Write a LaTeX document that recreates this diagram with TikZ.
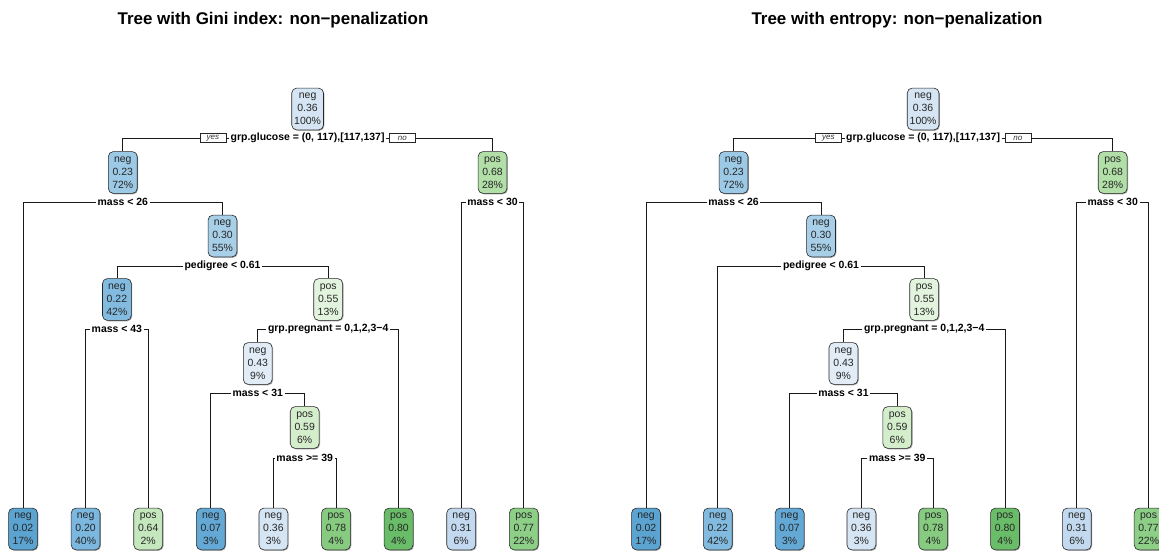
\documentclass[tikz,border=0pt]{standalone}
\usepackage{fontspec}
\setmainfont{Liberation Sans}
\usetikzlibrary{positioning,shadows}

% node fill colours, blue for "neg", green for "pos", darker for purer nodes
\definecolor{b002}{HTML}{5BA3D1}
\definecolor{b007}{HTML}{64A9D5}
\definecolor{b020}{HTML}{7BB7DE}
\definecolor{b022}{HTML}{82BBDF}
\definecolor{b023}{HTML}{9CC9E5}
\definecolor{b030}{HTML}{A8CFE8}
\definecolor{b031}{HTML}{C3D9EF}
\definecolor{b036}{HTML}{D5E5F3}
\definecolor{b043}{HTML}{E1ECF7}
\definecolor{g055}{HTML}{E3F4DE}
\definecolor{g059}{HTML}{D4EECC}
\definecolor{g064}{HTML}{C5E7BD}
\definecolor{g068}{HTML}{B2DEA8}
\definecolor{g077}{HTML}{8DCF87}
\definecolor{g078}{HTML}{86CB80}
\definecolor{g080}{HTML}{6ABD68}

\tikzset{
  tbox/.style={draw=black!85, line width=0.6pt, rounded corners=5pt, align=center,
    font=\fontsize{10.5}{13}\selectfont, text=black!85,
    minimum width=29pt, minimum height=42pt, inner sep=2.5pt,
    drop shadow={shadow xshift=0.9pt, shadow yshift=-0.9pt, fill=black!35, opacity=1}},
  splitlbl/.style={fill=white, font=\fontsize{10.5}{12}\selectfont\bfseries,
    inner xsep=1.5pt, inner ysep=0.5pt},
  yn/.style={draw=black!85, line width=0.5pt, fill=white,
    font=\fontsize{8}{9}\selectfont\itshape, text=black!80,
    minimum width=26pt, minimum height=9.5pt, inner sep=0.5pt},
  edge/.style={draw=black!90, line width=0.7pt},
  ttl/.style={font=\fontsize{17}{19}\selectfont\bfseries, anchor=base}
}

% a split label joined to its two children
\newcommand\splitedges[3]{%
  \draw[edge] (#1.west) -| (#2.north);
  \draw[edge] (#1.east) -| (#3.north);}

\begin{document}
\begin{tikzpicture}[x=1bp,y=-1bp]
\useasboundingbox[fill=white] (0,0) rectangle (1159,551);

% ---------------- Gini tree ----------------
\node[ttl] (tA) at (273,25) {Tree with Gini index: non−penalization};

\node[tbox, fill=b036] (A0) at (307.6,109) {neg\\0.36\\100\%};
\node[tbox, fill=b023] (A1) at (122.8,172.5) {neg\\0.23\\72\%};
\node[tbox, fill=g068] (A2) at (492.5,172.5) {pos\\0.68\\28\%};
\node[tbox, fill=b030] (A3) at (222.5,236) {neg\\0.30\\55\%};
\node[tbox, fill=b022] (A4) at (116.9,299.5) {neg\\0.22\\42\%};
\node[tbox, fill=g055] (A5) at (328.2,299.5) {pos\\0.55\\13\%};
\node[tbox, fill=b043] (A6) at (257.75,363.5) {neg\\0.43\\9\%};
\node[tbox, fill=g059] (A7) at (304.7,427.5) {pos\\0.59\\6\%};

\node[tbox, fill=b002] (A8)  at (23,529)    {neg\\0.02\\17\%};
\node[tbox, fill=b020] (A9)  at (85.6,529)  {neg\\0.20\\40\%};
\node[tbox, fill=g064] (A10) at (148.2,529) {pos\\0.64\\2\%};
\node[tbox, fill=b007] (A11) at (210.8,529) {neg\\0.07\\3\%};
\node[tbox, fill=b036] (A12) at (273.4,529) {neg\\0.36\\3\%};
\node[tbox, fill=g078] (A13) at (336,529)   {pos\\0.78\\4\%};
\node[tbox, fill=g080] (A14) at (398.6,529) {pos\\0.80\\4\%};
\node[tbox, fill=b031] (A15) at (461.2,529) {neg\\0.31\\6\%};
\node[tbox, fill=g077] (A16) at (523.8,529) {pos\\0.77\\22\%};

\node[splitlbl] (sA0) at (307.6,138) {grp.glucose = (0, 117),[117,137]};
\node[yn, left=3pt of sA0]  (yA) {yes};
\node[yn, right=3pt of sA0] (nA) {no};
\draw[edge] (sA0.west) -- (yA.east);
\draw[edge] (yA.west) -| (A1.north);
\draw[edge] (sA0.east) -- (nA.west);
\draw[edge] (nA.east) -| (A2.north);

\node[splitlbl] (sA1) at (122.8,202) {mass < 26};
\node[splitlbl] (sA2) at (492.5,202) {mass < 30};
\node[splitlbl] (sA3) at (222.5,266) {pedigree < 0.61};
\node[splitlbl] (sA4) at (116.9,329) {mass < 43};
\node[splitlbl] (sA5) at (328.2,329) {grp.pregnant = 0,1,2,3−4};
\node[splitlbl] (sA6) at (257.75,393) {mass < 31};
\node[splitlbl] (sA7) at (304.7,458) {mass >= 39};

\splitedges{sA1}{A8}{A3}
\splitedges{sA2}{A15}{A16}
\splitedges{sA3}{A4}{A5}
\splitedges{sA4}{A9}{A10}
\splitedges{sA5}{A6}{A14}
\splitedges{sA6}{A11}{A7}
\splitedges{sA7}{A12}{A13}

% ---------------- entropy tree ----------------
\node[ttl] (tB) at (897,25) {Tree with entropy: non−penalization};

\node[tbox, fill=b036] (B0) at (923.1,109) {neg\\0.36\\100\%};
\node[tbox, fill=b023] (B1) at (733.5,172.5) {neg\\0.23\\72\%};
\node[tbox, fill=g068] (B2) at (1112.7,172.5) {pos\\0.68\\28\%};
\node[tbox, fill=b030] (B3) at (821,236) {neg\\0.30\\55\%};
\node[tbox, fill=g055] (B5) at (924.2,299.5) {pos\\0.55\\13\%};
\node[tbox, fill=b043] (B6) at (843.45,363.5) {neg\\0.43\\9\%};
\node[tbox, fill=g059] (B7) at (897.3,427.5) {pos\\0.59\\6\%};

\node[tbox, fill=b002] (B8)  at (646,529)    {neg\\0.02\\17\%};
\node[tbox, fill=b022] (B9)  at (717.8,529)  {neg\\0.22\\42\%};
\node[tbox, fill=b007] (B10) at (789.6,529)  {neg\\0.07\\3\%};
\node[tbox, fill=b036] (B11) at (861.4,529)  {neg\\0.36\\3\%};
\node[tbox, fill=g078] (B12) at (933.2,529)  {pos\\0.78\\4\%};
\node[tbox, fill=g080] (B13) at (1005,529)   {pos\\0.80\\4\%};
\node[tbox, fill=b031] (B14) at (1076.8,529) {neg\\0.31\\6\%};
\node[tbox, fill=g077] (B15) at (1148.6,529) {pos\\0.77\\22\%};

\node[splitlbl] (sB0) at (923.1,138) {grp.glucose = (0, 117),[117,137]};
\node[yn, left=3pt of sB0]  (yB) {yes};
\node[yn, right=3pt of sB0] (nB) {no};
\draw[edge] (sB0.west) -- (yB.east);
\draw[edge] (yB.west) -| (B1.north);
\draw[edge] (sB0.east) -- (nB.west);
\draw[edge] (nB.east) -| (B2.north);

\node[splitlbl] (sB1) at (733.5,202) {mass < 26};
\node[splitlbl] (sB2) at (1112.7,202) {mass < 30};
\node[splitlbl] (sB3) at (821,266) {pedigree < 0.61};
\node[splitlbl] (sB5) at (924.2,329) {grp.pregnant = 0,1,2,3−4};
\node[splitlbl] (sB6) at (843.45,393) {mass < 31};
\node[splitlbl] (sB7) at (897.3,458) {mass >= 39};

\splitedges{sB1}{B8}{B3}
\splitedges{sB2}{B14}{B15}
\splitedges{sB3}{B9}{B5}
\splitedges{sB5}{B6}{B13}
\splitedges{sB6}{B10}{B7}
\splitedges{sB7}{B11}{B12}
\end{tikzpicture}
\end{document}
